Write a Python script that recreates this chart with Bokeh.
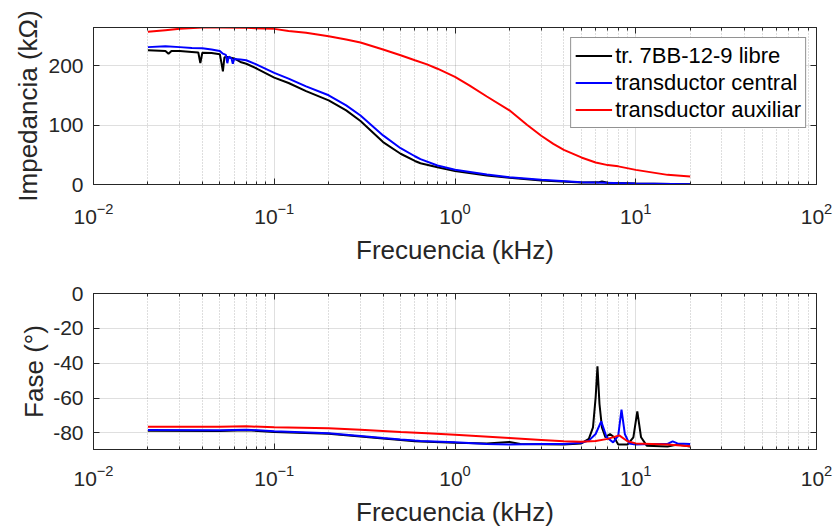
from bokeh.plotting import figure
from bokeh.models import (Range1d, FixedTicker, LogAxis, LinearAxis, Legend, LegendItem,
                          CustomJSTickFormatter)
from bokeh.layouts import column
from bokeh.embed import file_html
from bokeh.resources import INLINE

# ---------------- data ----------------
freq_ticks = [0.01, 0.1, 1, 10, 100]
imp_ticks = [0, 100, 200]
phase_ticks = [-80, -60, -40, -20, 0]

labels = ["tr. 7BB-12-9 libre", "transductor central", "transductor auxiliar"]
colors = ["#000000", "#0000ff", "#ff0000"]

# Impedance (kOhm)
f_imp_black = [0.020, 0.025, 0.026, 0.027, 0.030, 0.035, 0.038, 0.039, 0.040, 0.045,
               0.050, 0.051, 0.052, 0.053, 0.055, 0.060, 0.065, 0.070, 0.080, 0.10,
               0.12, 0.15, 0.20, 0.25, 0.30, 0.40, 0.50, 0.60, 0.644, 0.80, 1.0,
               1.5, 2.0, 3.0, 5.0, 6.2, 6.5, 7.0, 10, 20]
z_black = [225.8, 224.6, 220.0, 224.6, 224.6, 223.0, 222.0, 204.0, 221.5, 221.0,
           219.0, 205.0, 190.4, 214.0, 214.5, 212.0, 206.0, 203.0, 195.0, 179.8,
           170.7, 157.0, 141.5, 124.7, 106.7, 71.3, 51.7, 39.6, 35.8, 29.0, 22.5,
           15.2, 11.2, 6.7, 3.4, 3.6, 5.0, 3.0, 1.7, 0.6]

f_imp_blue = [0.020, 0.025, 0.030, 0.035, 0.040, 0.045, 0.050, 0.052, 0.054, 0.055,
              0.056, 0.058, 0.059, 0.060, 0.065, 0.070, 0.080, 0.10, 0.12, 0.15,
              0.20, 0.25, 0.30, 0.40, 0.50, 0.60, 0.644, 0.80, 1.0, 1.5, 2.0,
              3.0, 5.0, 10, 20]
z_blue = [231.0, 232.5, 231.0, 229.7, 229.0, 227.0, 224.6, 220.0, 218.0, 204.0,
          215.0, 212.0, 203.0, 211.0, 210.0, 209.0, 201.7, 187.6, 178.0, 165.0,
          150.0, 133.0, 116.0, 82.6, 61.0, 47.5, 42.6, 32.0, 24.7, 16.8, 12.3,
          7.9, 3.9, 1.7, 0.3]

f_imp_red = [0.020, 0.025, 0.030, 0.040, 0.050, 0.070, 0.10, 0.12, 0.15, 0.20,
             0.25, 0.30, 0.40, 0.50, 0.60, 0.70, 0.80, 1.0, 1.2, 1.5, 2.0,
             2.5, 3.0, 3.5, 4.0, 5.0, 6.0, 7.0, 8.0, 10, 15, 20]
z_red = [256.7, 259.5, 261.7, 264.0, 264.0, 263.4, 261.7, 258.3, 255.0, 249.4,
         243.8, 238.7, 227.0, 217.4, 209.0, 202.0, 194.7, 181.0, 166.8, 148.0, 124.7,
         100.4, 82.0, 68.4, 58.3, 45.5, 36.9, 32.6, 30.5, 24.6, 16.2, 13.5]

# Phase (degrees)
f_ph_black = [0.020, 0.050, 0.070, 0.10, 0.20, 0.30, 0.40, 0.50, 0.60, 0.644, 1.0,
              1.5, 2.0, 2.3, 3.0, 4.0, 5.0, 5.5, 5.8, 6.0, 6.14, 6.3, 6.5, 6.8,
              7.2, 7.6, 8.0, 9.0, 9.7, 10.2, 10.7, 11.5, 15, 17, 20]
ph_black = [-78.7, -78.9, -78.4, -79.4, -80.5, -82.0, -83.2, -84.1, -84.8, -84.9, -85.6,
            -86.0, -85.2, -86.3, -86.5, -86.7, -86.0, -83.4, -76.8, -59.6, -41.8, -63.4, -76.8, -82.5,
            -80.6, -82.5, -86.7, -86.7, -82.5, -67.6, -82.5, -87.3, -87.8, -86.7, -87.8]

f_ph_blue = [0.020, 0.050, 0.070, 0.10, 0.20, 0.30, 0.40, 0.50, 0.60, 0.644, 1.0,
             1.5, 2.0, 3.0, 4.0, 5.0, 5.5, 6.0, 6.44, 6.9, 7.5, 8.0, 8.34, 8.7,
             9.2, 10, 12, 15, 16, 17, 20]
ph_blue = [-78.3, -78.5, -78.1, -79.1, -80.2, -81.7, -82.9, -83.8, -84.4, -84.6, -85.4,
           -86.3, -86.7, -86.3, -86.3, -85.6, -84.4, -80.6, -73.4, -82.5, -85.4, -81.5, -66.6, -80.6,
           -86.0, -86.7, -86.3, -86.3, -84.8, -86.0, -86.3]

f_ph_red = [0.020, 0.050, 0.070, 0.10, 0.20, 0.30, 0.50, 0.70, 1.0, 2.0,
            3.0, 4.0, 5.0, 6.0, 7.0, 8.1, 9.0, 10, 15, 20]
ph_red = [-76.4, -76.4, -76.2, -76.8, -77.3, -78.1, -79.4, -80.2, -81.0, -82.9,
          -84.0, -84.8, -85.0, -84.6, -83.4, -81.4, -84.8, -86.0, -86.7, -87.7]

# ---------------- styling ----------------
AX = "#262626"
FONT = "Liberation Sans"
minor = [m * 10.0 ** e for e in range(-2, 2) for m in range(2, 10)]


def style(p, yticks, x_std, y_lab_std):
    p.xaxis.ticker = FixedTicker(ticks=freq_ticks, minor_ticks=minor)
    p.yaxis.ticker = FixedTicker(ticks=yticks)
    p.yaxis.formatter = CustomJSTickFormatter(code="return tick.toFixed(0)")
    for ax in p.axis:
        ax.axis_line_color = AX
        ax.major_tick_line_color = AX
        ax.minor_tick_line_color = AX
        ax.major_tick_in = 6
        ax.major_tick_out = 0
        ax.minor_tick_in = 3
        ax.minor_tick_out = 0
        ax.major_label_text_font = FONT
        ax.major_label_text_font_size = "21px"
        ax.major_label_text_color = AX
        ax.axis_label_text_font = FONT
        ax.axis_label_text_font_size = "26px"
        ax.axis_label_text_font_style = "normal"
        ax.axis_label_text_color = AX
    p.yaxis.minor_tick_line_color = None
    p.xaxis.major_label_standoff = x_std
    p.xaxis.axis_label_standoff = 8
    p.yaxis.major_label_standoff = 10
    p.yaxis.axis_label_standoff = y_lab_std
    p.xgrid.grid_line_color = AX
    p.xgrid.grid_line_alpha = 0.15
    p.ygrid.grid_line_color = AX
    p.ygrid.grid_line_alpha = 0.15
    p.xgrid.minor_grid_line_color = AX
    p.xgrid.minor_grid_line_alpha = 0.3
    p.xgrid.minor_grid_line_dash = "1 2"
    p.outline_line_color = AX
    p.outline_line_alpha = 1.0
    p.background_fill_color = "white"
    p.border_fill_color = "white"
    # box ticks on top and right
    blank = CustomJSTickFormatter(code="return ''")
    top = LogAxis(ticker=FixedTicker(ticks=freq_ticks, minor_ticks=minor), formatter=blank)
    right = LinearAxis(ticker=FixedTicker(ticks=yticks), formatter=blank)
    for ax in (top, right):
        ax.axis_line_color = AX
        ax.major_tick_line_color = AX
        ax.minor_tick_line_color = AX
        ax.major_tick_in = 6
        ax.major_tick_out = 0
        ax.minor_tick_in = 3
        ax.minor_tick_out = 0
        ax.major_label_text_font_size = "10px"
        ax.major_label_standoff = 0
    right.minor_tick_line_color = None
    p.add_layout(top, "above")
    p.add_layout(right, "right")


# ---------------- top panel ----------------
p1 = figure(width=837, height=270, x_axis_type="log",
            x_range=Range1d(0.01, 100), y_range=Range1d(0, 264),
            output_backend="svg", toolbar_location=None,
            min_border_left=93, min_border_right=21, min_border_top=27, min_border_bottom=86,
            x_axis_label="Frecuencia (kHz)", y_axis_label="Impedancia (kΩ)")
style(p1, imp_ticks, 18, 2)
r1 = p1.line(f_imp_black, z_black, line_color=colors[0], line_width=2)
r2 = p1.line(f_imp_blue, z_blue, line_color=colors[1], line_width=2)
r3 = p1.line(f_imp_red, z_red, line_color=colors[2], line_width=2)
legend = Legend(items=[LegendItem(label=labels[0], renderers=[r1]),
                       LegendItem(label=labels[1], renderers=[r2]),
                       LegendItem(label=labels[2], renderers=[r3])],
                location="top_right")
legend.margin = 10
legend.padding = 4
legend.spacing = 0
legend.glyph_width = 37
legend.glyph_height = 27
legend.label_height = 27
legend.label_standoff = 3
legend.label_text_font = FONT
legend.label_text_font_size = "22px"
legend.label_text_color = "#000000"
legend.border_line_color = AX
legend.border_line_width = 1
legend.background_fill_color = "white"
legend.background_fill_alpha = 1.0
p1.add_layout(legend)

# ---------------- bottom panel ----------------
p2 = figure(width=837, height=260, x_axis_type="log",
            x_range=Range1d(0.01, 100), y_range=Range1d(-89.5, 0),
            output_backend="svg", toolbar_location=None,
            min_border_left=93, min_border_right=21, min_border_top=23, min_border_bottom=81,
            x_axis_label="Frecuencia (kHz)", y_axis_label="Fase (°)")
style(p2, phase_ticks, 15, 1)
p2.line(f_ph_black, ph_black, line_color=colors[0], line_width=2)
p2.line(f_ph_blue, ph_blue, line_color=colors[1], line_width=2)
p2.line(f_ph_red, ph_red, line_color=colors[2], line_width=2)

layout = column(p1, p2, spacing=0)
open("out.html", "w").write(file_html(layout, INLINE))
